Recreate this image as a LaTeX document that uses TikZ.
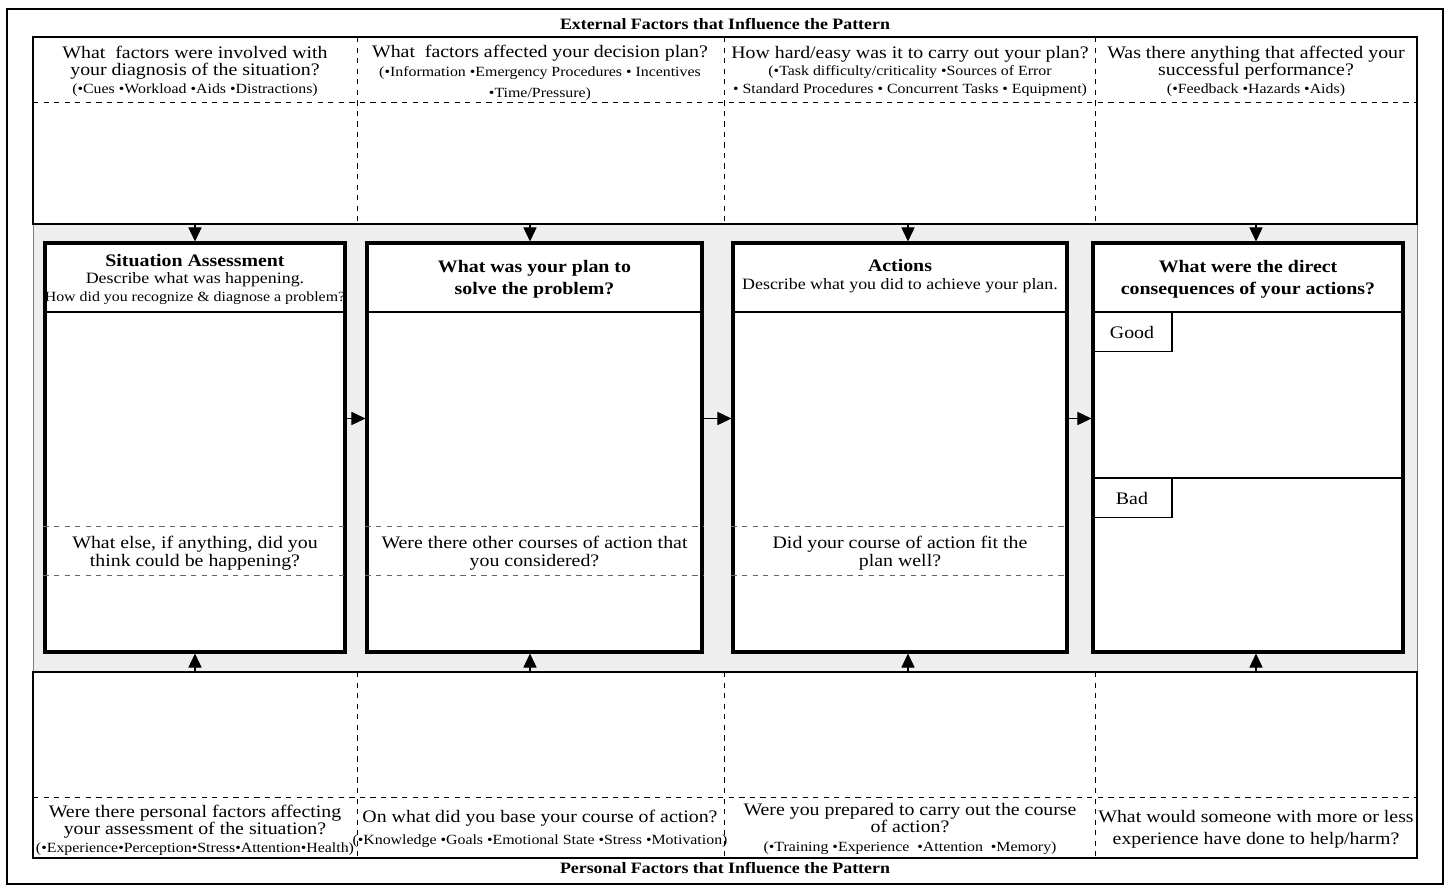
\documentclass[tikz,border=0pt]{standalone}
\usepackage{fontspec}
\setmainfont{Liberation Serif}[FakeStretch=1.13]
\usetikzlibrary{arrows.meta,calc}
\newcommand{\cuelist}{\fontsize{8}{10}\selectfont}
\begin{document}
\begin{tikzpicture}[x=0.02cm,y=-0.02cm,
  arrow/.style = {line width=0.6pt,-{Triangle[length=8pt,width=7.5pt]}},
  outline/.style = {line width=0.8pt},
  sep/.style = {dashed,line width=0.5pt},
  stage/.style = {draw,line width=1.8pt,fill=white,minimum height=8.18cm,inner sep=0pt},
  cue/.style = {align=center,font=\fontsize{10}{10}\selectfont},
  stagehead/.style = {align=center,font=\bfseries\fontsize{10}{10}\selectfont},
  verdict/.style = {draw,line width=0.6pt,minimum width=1.6cm,minimum height=0.78cm,inner sep=0pt,font=\fontsize{10}{10}\selectfont}]
\useasboundingbox (0,0) rectangle (1450,888);
\draw[line width=1.1pt] (7,9) rectangle (1443,884);

% external factors
\node[font=\bfseries\fontsize{9}{10}\selectfont] (exttitle) at (725,24) {External Factors that Influence the Pattern};
\draw[gray,fill=gray!13] (33,224) rectangle (1417,672);
\draw[outline,fill=white] (33,37) rectangle (1417,224);
\draw[sep] (33,102) -- (1417,102);
\foreach \x in {357,724,1095} \draw[sep] (\x,37) -- (\x,224);
\node[cue] (ext1) at (195,71) {What\ \ factors were involved with\\your diagnosis of the situation?\\{\cuelist (•Cues •Workload •Aids •Distractions)}};
\node[cue] (ext2) at (540,73) {What\ \ factors affected your decision plan?\\[1pt]{\cuelist (•Information •Emergency Procedures • Incentives}\\[2pt]{\cuelist •Time/Pressure)}};
\node[cue] (ext3) at (910,71) {How hard/easy was it to carry out your plan?\\{\cuelist (•Task difficulty/criticality •Sources of Error}\\{\cuelist • Standard Procedures • Concurrent Tasks • Equipment)}};
\node[cue] (ext4) at (1256,71) {Was there anything that affected your\\successful performance?\\{\cuelist (•Feedback •Hazards •Aids)}};

% stages
\node[stage,minimum width=6cm] (sa) at (195,447.5) {};
\node[stage,minimum width=6.7cm] (plan) at (534.5,447.5) {};
\node[stage,minimum width=6.68cm] (act) at (900,447.5) {};
\node[stage,minimum width=6.2cm] (cons) at (1248,447.5) {};
\foreach \b in {sa,plan,act,cons}
  \draw[line width=1pt] (\b.west |- 0,312) -- (\b.east |- 0,312);
\foreach \b in {sa,plan,act} {
  \draw[sep,gray!80!black] (\b.west |- 0,526) -- (\b.east |- 0,526);
  \draw[sep,gray!80!black] (\b.west |- 0,575) -- (\b.east |- 0,575);
}
\node[stagehead] (sahead) at (sa.north |- 0,279) {Situation Assessment\\{\normalfont\fontsize{9}{10}\selectfont Describe what was happening.}\\{\normalfont\fontsize{8}{10}\selectfont How did you recognize \& diagnose a problem?}};
\node[stagehead,font=\bfseries\fontsize{10}{12.5}\selectfont] (planhead) at (plan.north |- 0,279) {What was your plan to\\solve the problem?};
\node[stagehead] (acthead) at (act.north |- 0,276) {Actions\\{\normalfont\fontsize{9}{10}\selectfont Describe what you did to achieve your plan.}};
\node[stagehead,font=\bfseries\fontsize{10}{12.5}\selectfont] (conshead) at (cons.north |- 0,279) {What were the direct\\consequences of your actions?};
\node[cue] (saalt) at (sa.north |- 0,553) {What else, if anything, did you\\think could be happening?};
\node[cue] (planalt) at (plan.north |- 0,553) {Were there other courses of action that\\you considered?};
\node[cue] (actalt) at (act.north |- 0,553) {Did your course of action fit the\\plan well?};
\node[verdict,anchor=north west] (good) at (cons.west |- 0,312) {Good};
\draw[line width=0.6pt] (cons.west |- 0,478) -- (cons.east |- 0,478);
\node[verdict,anchor=north west] (bad) at (cons.west |- 0,478) {Bad};

\draw[arrow] ($(sa.east)+(0,-29)$) -- ($(plan.west)+(0,-29)$);
\draw[arrow] ($(plan.east)+(0,-29)$) -- ($(act.west)+(0,-29)$);
\draw[arrow] ($(act.east)+(0,-29)$) -- ($(cons.west)+(0,-29)$);

% influence arrows
\coordinate (e1) at (195,224);
\coordinate (e2) at (530,224);
\coordinate (e3) at (908,224);
\coordinate (e4) at (1256,224);
\coordinate (p1) at (195,672);
\coordinate (p2) at (530,672);
\coordinate (p3) at (908,672);
\coordinate (p4) at (1256,672);
\draw[arrow] (e1) -- (e1 |- sa.north);
\draw[arrow] (e2) -- (e2 |- plan.north);
\draw[arrow] (e3) -- (e3 |- act.north);
\draw[arrow] (e4) -- (e4 |- cons.north);
\draw[arrow] (p1) -- (p1 |- sa.south);
\draw[arrow] (p2) -- (p2 |- plan.south);
\draw[arrow] (p3) -- (p3 |- act.south);
\draw[arrow] (p4) -- (p4 |- cons.south);

% personal factors
\draw[outline] (33,672) rectangle (1417,858);
\draw[sep] (33,797) -- (1417,797);
\foreach \x in {357,724,1095} \draw[sep] (\x,672) -- (\x,858);
\node[cue] (pers1) at (195,830) {Were there personal factors affecting\\your assessment of the situation?\\{\cuelist (•Experience•Perception•Stress•Attention•Health)}};
\node[cue,font=\fontsize{10}{12.5}\selectfont] (pers2) at (540,829) {On what did you base your course of action?\\{\cuelist (•Knowledge •Goals •Emotional State •Stress •Motivation)}};
\node[cue,font=\fontsize{10}{9.5}\selectfont] (pers3) at (910,829) {Were you prepared to carry out the course\\of action?\\[1.5pt]{\cuelist (•Training •Experience\ \ •Attention\ \ •Memory)}};
\node[cue,font=\fontsize{10}{12.5}\selectfont] (pers4) at (1256,829.5) {What would someone with more or less\\experience have done to help/harm?};
\node[font=\bfseries\fontsize{9}{10}\selectfont] (perstitle) at (725,868) {Personal Factors that Influence the Pattern};
\end{tikzpicture}
\end{document}
